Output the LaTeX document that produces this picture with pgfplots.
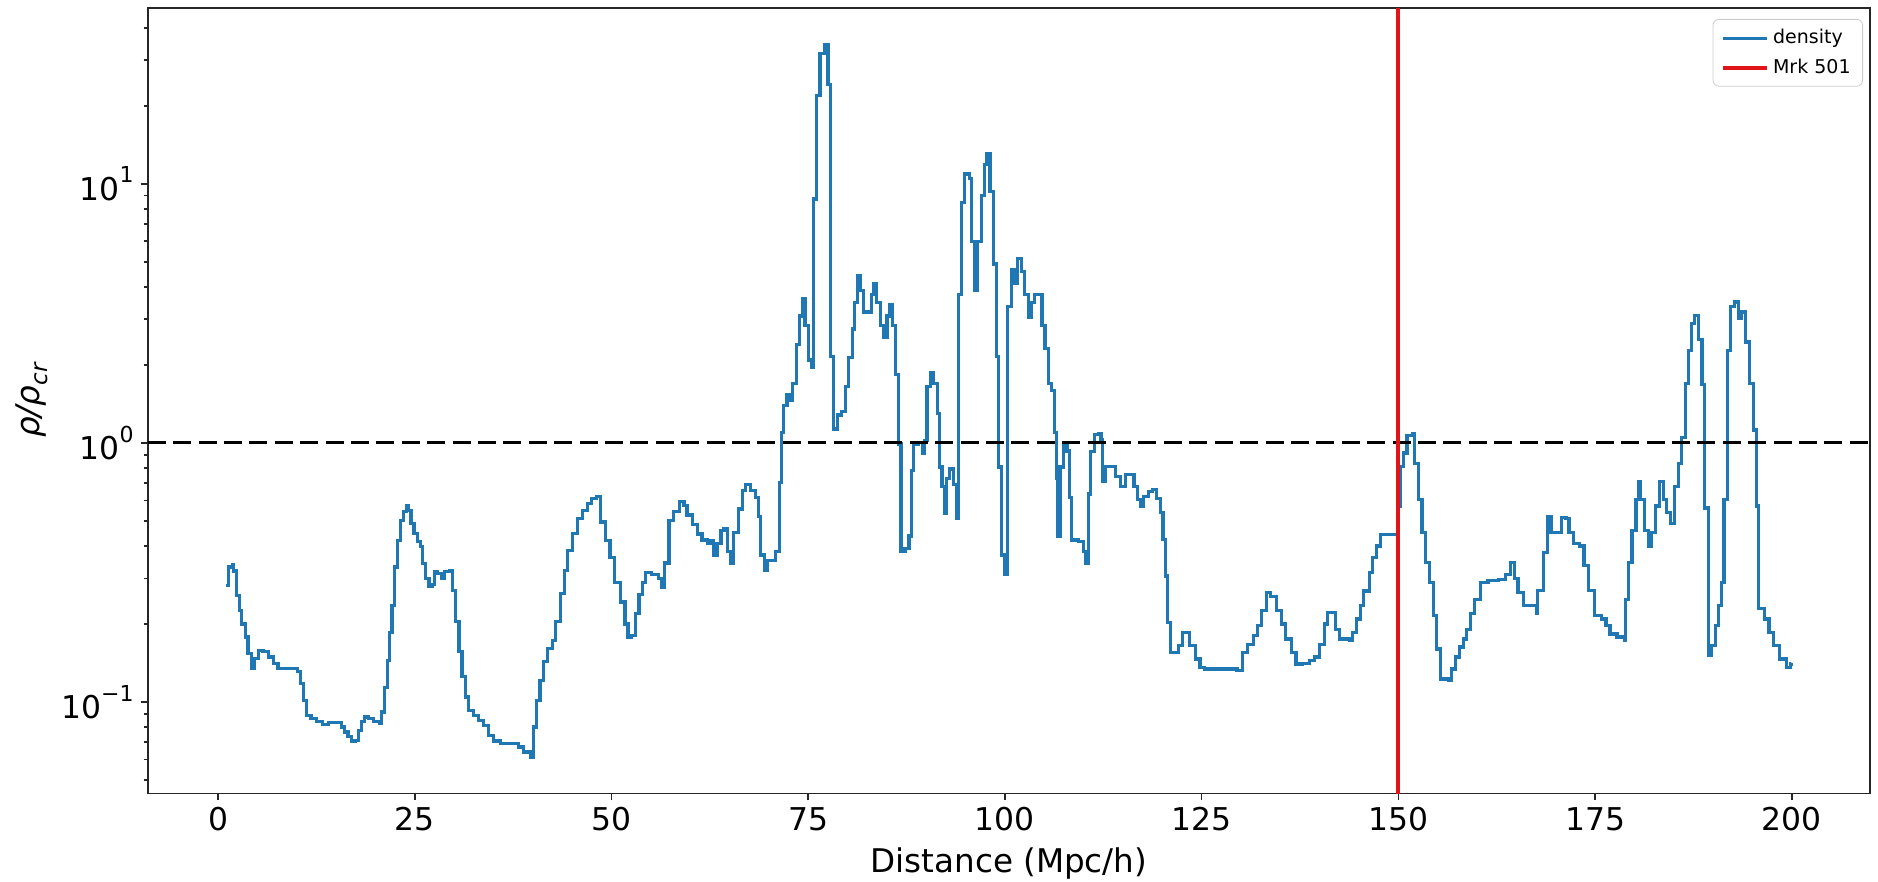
\documentclass[border=0pt]{standalone}
\usepackage{fontspec}
\setmainfont{DejaVu Sans}
\usepackage{pgfplots}
\pgfplotsset{compat=1.18}

\definecolor{mplblue}{RGB}{31,119,180}
\definecolor{mrkred}{RGB}{225,20,25}

\begin{document}
\begin{tikzpicture}
\begin{semilogyaxis}[
    scale only axis,
    width=861pt, height=392.7pt,
    xmin=-8.95, xmax=209.95,
    ymin=0.0443, ymax=47.7,
    axis line style={black!85, line width=0.85pt},
    tick pos=left,
    tick align=outside,
    major tick length=3.5pt,
    minor tick length=2pt,
    every tick/.style={black!85, line width=0.8pt},
    xtick={0,25,50,75,100,125,150,175,200},
    xticklabel style={/pgf/number format/assume math mode=true},
    ytick={0.1,1,10},
    yticklabels={10\raisebox{0.55em}{\fontsize{11}{13}\selectfont −1},
                 10\raisebox{0.55em}{\fontsize{11}{13}\selectfont 0},
                 10\raisebox{0.55em}{\fontsize{11}{13}\selectfont 1}},
    minor ytick={0.05,0.06,0.07,0.08,0.09,0.2,0.3,0.4,0.5,0.6,0.7,0.8,0.9,
                 2,3,4,5,6,7,8,9,20,30,40},
    tick label style={font=\fontsize{15.7}{18}\selectfont},
    xlabel={Distance (Mpc/h)},
    ylabel={\itshape ρ/ρ\raisebox{-0.25em}{\fontsize{11.5}{13}\selectfont\itshape cr}},
    label style={font=\fontsize{16.3}{19}\selectfont},
    xlabel style={at={(axis description cs:0.5,-0.1011)}, anchor=base},
    ylabel style={at={(axis description cs:-0.0673,0.5)}, anchor=center},
    legend style={at={(axis description cs:1,1)}, anchor=north east,
        xshift=-3.5pt, yshift=-5.5pt, draw=black!20, rounded corners=3pt,
        fill=white, font=\fontsize{9.5}{11}\selectfont,
        inner xsep=4pt, inner ysep=3pt, row sep=2pt},
    legend cell align=left,
    legend image code/.code={\draw[#1] (0pt,0pt) -- (22pt,0pt);},
]
% density profile along the line of sight
\addplot[const plot, mplblue, line width=1.6pt] coordinates {
(1.0,0.282) (1.3,0.332) (1.8,0.34) (2.0,0.32) (2.3,0.258) (2.7,0.226)
(3.0,0.2) (3.5,0.178) (3.8,0.154) (4.2,0.135) (4.6,0.147) (5.1,0.158)
(5.7,0.156) (6.4,0.149) (7.0,0.141) (7.6,0.135) (9.8,0.135) (10.1,0.131)
(10.5,0.118) (10.8,0.1015) (11.2,0.0889) (11.8,0.0863) (12.5,0.0838)
(13.3,0.082) (14.0,0.083) (15.2,0.083) (15.7,0.080) (16.1,0.0766)
(16.5,0.0733) (17.0,0.0701) (17.4,0.071) (17.8,0.0778) (18.2,0.0838)
(18.6,0.0875) (19.1,0.0863) (19.7,0.0838) (20.5,0.0826) (20.8,0.0915)
(21.1,0.114) (21.5,0.145) (21.8,0.186) (22.1,0.236) (22.4,0.332)
(22.8,0.421) (23.2,0.503) (23.6,0.542) (23.9,0.574) (24.2,0.55)
(24.5,0.489) (24.9,0.447) (25.3,0.415) (25.7,0.397) (26.0,0.342)
(26.4,0.299) (26.8,0.278) (27.2,0.283) (27.5,0.318) (27.9,0.312)
(28.4,0.30) (28.8,0.318) (29.4,0.322) (29.8,0.27) (30.2,0.204)
(30.6,0.156) (31.0,0.125) (31.4,0.1045) (31.8,0.0929) (32.5,0.0889)
(33.1,0.085) (33.7,0.0813) (34.4,0.0743) (35.0,0.0707) (35.9,0.069)
(36.7,0.069) (37.6,0.069) (38.2,0.067) (38.8,0.0641) (39.7,0.0613)
(40.1,0.080) (40.5,0.1015) (40.9,0.121) (41.4,0.143) (41.9,0.161)
(42.5,0.173) (42.9,0.204) (43.5,0.262) (44.0,0.322) (44.4,0.385)
(45.0,0.447) (45.7,0.511) (46.3,0.55) (46.9,0.583) (47.5,0.61)
(48.1,0.62) (48.6,0.495) (49.2,0.42) (49.8,0.36) (50.4,0.29)
(51.1,0.243) (51.7,0.2) (52.1,0.178) (52.5,0.18) (53.0,0.22)
(53.5,0.26) (53.9,0.29) (54.3,0.317) (55.1,0.31) (56.0,0.30)
(56.4,0.276) (56.7,0.344) (57.3,0.501) (57.9,0.545) (58.6,0.594)
(59.2,0.574) (59.6,0.527) (60.3,0.484) (60.9,0.445) (61.5,0.422)
(62.2,0.409) (62.6,0.42) (63.0,0.369) (63.4,0.409) (63.9,0.46)
(64.3,0.465) (64.7,0.382) (65.1,0.344) (65.5,0.452) (66.1,0.555)
(66.6,0.657) (67.0,0.692) (67.7,0.657) (68.3,0.614) (68.7,0.519)
(68.9,0.369) (69.4,0.322) (69.8,0.351) (70.4,0.351) (70.8,0.382)
(71.3,0.704) (71.6,1.095) (71.9,1.39) (72.3,1.54) (72.7,1.46)
(73.0,1.70) (73.5,2.40) (73.9,3.09) (74.3,3.60) (74.6,2.84)
(75.0,2.09) (75.4,1.95) (75.7,8.73) (76.1,21.9) (76.5,31.8)
(77.1,34.6) (77.5,24.2) (77.8,2.16) (78.2,1.13) (78.7,1.28)
(79.2,1.32) (79.7,1.65) (80.1,2.13) (80.6,2.75) (80.9,3.49)
(81.3,4.42) (81.6,3.86) (82.0,3.20) (82.7,3.20) (83.0,3.73)
(83.3,4.13) (83.7,3.49) (84.2,2.84) (84.6,2.56) (85.0,3.09)
(85.4,3.42) (85.7,2.84) (86.1,1.83) (86.5,0.99) (86.8,0.382)
(87.3,0.39) (87.8,0.437) (88.1,0.78) (88.4,0.99) (89.0,1.0)
(89.5,0.91) (89.8,1.02) (90.1,1.65) (90.5,1.86) (90.9,1.70)
(91.4,1.30) (91.7,0.807) (92.0,0.68) (92.3,0.536) (92.6,0.728)
(93.0,0.793) (93.5,0.69) (93.9,0.509) (94.1,3.73) (94.5,8.44)
(94.9,10.9) (95.5,10.5) (95.7,6.0) (96.1,3.86) (96.5,6.0)
(97.0,9.03) (97.4,11.9) (97.7,13.1) (98.1,9.34) (98.5,4.90)
(98.9,2.16) (99.2,0.807) (99.6,0.369) (100.0,0.311) (100.3,3.37)
(100.8,4.65) (101.2,4.13) (101.6,5.15) (102.1,4.57) (102.5,3.73)
(103.0,3.04) (103.4,3.49) (103.8,3.73) (104.3,3.73) (104.7,2.84)
(105.1,2.31) (105.5,1.70) (105.9,1.59) (106.3,1.095) (106.6,0.728)
(106.7,0.437) (107.0,0.807) (107.4,0.99) (107.9,0.93) (108.2,0.614)
(108.5,0.422) (109.4,0.415) (110.0,0.382) (110.3,0.344) (110.6,0.635)
(110.9,0.924) (111.4,1.076) (111.9,1.09) (112.2,1.03) (112.4,0.71)
(112.8,0.81) (113.4,0.81) (114.1,0.743) (114.7,0.68) (115.3,0.755)
(116.0,0.755) (116.4,0.68) (116.8,0.605) (117.2,0.57) (117.6,0.62)
(118.2,0.651) (118.8,0.66) (119.3,0.61) (119.8,0.537) (120.1,0.424)
(120.4,0.306) (120.7,0.203) (121.0,0.155) (121.7,0.155) (122.1,0.165)
(122.6,0.186) (123.2,0.186) (123.5,0.165) (124.2,0.1465) (124.8,0.136)
(125.4,0.134) (129.2,0.134) (129.5,0.132) (130.2,0.155) (130.8,0.167)
(131.6,0.180) (132.1,0.197) (132.6,0.225) (133.2,0.264) (133.8,0.255)
(134.5,0.225) (135.1,0.20) (135.7,0.175) (136.4,0.155) (137.0,0.14)
(137.8,0.141) (138.7,0.144) (139.3,0.149) (140.0,0.167) (140.6,0.20)
(141.0,0.221) (141.5,0.221) (142.0,0.19) (142.5,0.175) (143.8,0.173)
(144.2,0.186) (144.7,0.209) (145.2,0.235) (145.6,0.268) (146.3,0.316)
(146.7,0.36) (147.2,0.40) (147.7,0.443) (149.7,0.443) (149.9,0.57)
(150.2,0.81) (150.7,0.914) (151.1,1.07) (151.8,1.09) (152.1,0.83)
(152.6,0.605) (153.0,0.45) (153.5,0.345) (154.0,0.289) (154.5,0.215)
(154.9,0.16) (155.4,0.1227) (156.4,0.121) (156.8,0.134) (157.3,0.149)
(157.8,0.163) (158.3,0.175) (158.7,0.19) (159.2,0.219) (159.7,0.249)
(160.4,0.289) (161.4,0.294) (162.7,0.297) (163.6,0.31) (164.3,0.345)
(164.8,0.30) (165.2,0.264) (165.9,0.235) (166.8,0.235) (167.6,0.219)
(167.7,0.27) (168.4,0.377) (169.0,0.521) (169.4,0.45) (170.1,0.45)
(170.7,0.516) (171.3,0.51) (171.7,0.45) (172.3,0.41) (173.0,0.40)
(173.6,0.335) (174.2,0.27) (174.9,0.215) (175.8,0.209) (176.4,0.197)
(176.9,0.183) (177.8,0.178) (178.7,0.173) (178.9,0.249) (179.3,0.345)
(179.7,0.458) (180.2,0.605) (180.6,0.71) (180.8,0.605) (181.3,0.458)
(181.8,0.40) (182.2,0.45) (182.7,0.57) (183.2,0.71) (183.7,0.605)
(184.1,0.537) (184.6,0.49) (185.1,0.68) (185.6,0.83) (186.0,1.05)
(186.5,1.70) (186.9,2.28) (187.3,2.89) (187.6,3.11) (188.1,2.50)
(188.6,1.68) (188.9,0.56) (189.4,0.151) (189.8,0.165) (190.3,0.197)
(190.7,0.235) (191.1,0.289) (191.4,0.605) (191.8,2.28) (192.2,3.35)
(192.7,3.50) (193.2,3.02) (193.6,3.2) (194.1,2.45) (194.6,1.70)
(195.1,1.12) (195.5,0.57) (195.8,0.23) (196.5,0.209) (197.1,0.186)
(197.7,0.165) (198.4,0.1465) (199.3,0.136) (199.8,0.14) (200.0,0.141)
};
\addlegendentry{density}
% critical density level
\addplot[forget plot, black, line width=1.35pt, dash pattern=on 9pt off 3.7pt]
    coordinates {(-8.95,1) (209.95,1)};
% position of the source
\addplot[mrkred, line width=2pt] coordinates {(150,0.0443) (150,47.7)};
\addlegendentry{Mrk 501}
\end{semilogyaxis}
\pgfresetboundingbox
\path ([shift={(-73.85pt,-43.85pt)}]current axis.south west)
    rectangle ([shift={(4pt,4pt)}]current axis.north east);
\end{tikzpicture}
\end{document}
